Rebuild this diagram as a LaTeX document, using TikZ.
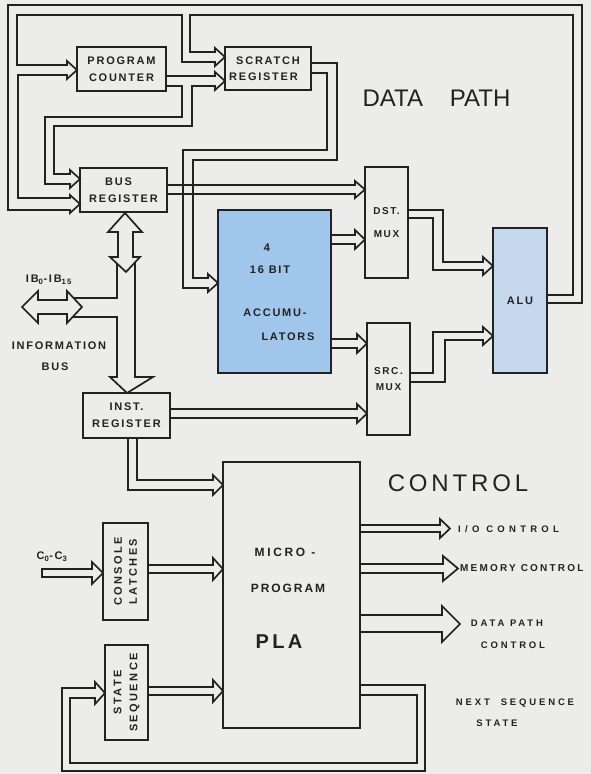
\documentclass[tikz,border=0pt]{standalone}
\usepackage{fontspec}
\setmainfont{Liberation Sans}
\newfontfamily\lblfont[LetterSpace=16]{Liberation Sans}
\newfontfamily\midfont[LetterSpace=22]{Liberation Sans}
\newfontfamily\widefont[LetterSpace=30]{Liberation Sans}
\newfontfamily\xwidefont[LetterSpace=45]{Liberation Sans}
\definecolor{bgc}{RGB}{236,236,234}
\definecolor{ink}{RGB}{34,34,34}
\definecolor{accblue}{RGB}{160,198,236}
\definecolor{alublue}{RGB}{198,216,238}
\begin{document}
\begin{tikzpicture}[x=1pt,y=-1pt,
  blk/.style={draw=ink, line width=1.7pt, inner sep=0pt, align=center, text=ink,
    font=\lblfont\bfseries\fontsize{11}{17}\selectfont},
  busline/.style={draw=ink, line width=1.7pt, line join=miter},
  lbl/.style={inner sep=0pt, text=ink, font=\lblfont\bfseries\fontsize{11}{17}\selectfont},
  wlbl/.style={inner sep=0pt, text=ink, font=\widefont\bfseries\fontsize{9.5}{14}\selectfont},
  big/.style={inner sep=0pt, text=ink, font=\fontsize{24}{28}\selectfont}]
\fill[bgc] (0,0) rectangle (591,774);
\useasboundingbox (0,0) rectangle (591,774);

% ---------- boxes ----------
\node[blk, minimum width=89, minimum height=44] (pc) at (121.5,69) {PROGRAM\\COUNTER};
\node[blk, minimum width=86, minimum height=43, font=\lblfont\bfseries\fontsize{11}{16}\selectfont] (scr) at (268,68.5) {SCRATCH\\\hspace*{-9pt}REGISTER};
\node[blk, minimum width=87, minimum height=44] (busr) at (123.5,190) {\hspace*{-10pt}BUS\\REGISTER};
\node[blk, minimum width=87, minimum height=45] (inst) at (126.5,415.5) {INST.\\REGISTER};
\node[blk, fill=accblue, minimum width=113, minimum height=163] (acc) at (274.5,291.5) {};
\node[blk, minimum width=43, minimum height=111, font=\lblfont\bfseries\fontsize{10}{23}\selectfont] (dst) at (386.5,222.5) {DST.\\MUX};
\node[blk, minimum width=43, minimum height=112, font=\lblfont\bfseries\fontsize{10}{16}\selectfont] (src) at (388.5,379) {SRC.\\MUX};
\node[blk, fill=alublue, minimum width=54, minimum height=145] (alu) at (520,300.5) {ALU};
\node[blk, minimum width=137, minimum height=266] (pla) at (291.5,595) {};
\node[blk, rotate=90, minimum width=97, minimum height=45, font=\midfont\bfseries\fontsize{11}{15}\selectfont] (cl) at (125.5,571.5) {CONSOLE\\LATCHES};
\node[blk, rotate=90, minimum width=95, minimum height=43, font=\midfont\bfseries\fontsize{11}{16}\selectfont] (ss) at (126.5,692.5) {STATE\\SEQUENCE};

% ---------- text inside accumulators and PLA ----------
\node[lbl] (t4) at (267,248) {4};
\node[lbl] (t16) at (270,270) {16 BIT};
\node[lbl] (tacc) at (275,313) {ACCUMU-};
\node[lbl] (tlat) at (288,337) {LATORS};
\node[lbl, font=\midfont\bfseries\fontsize{12}{17}\selectfont] (tmic) at (285,552) {MICRO -};
\node[lbl, font=\lblfont\bfseries\fontsize{12}{17}\selectfont] (tprg) at (288,588) {PROGRAM};
\node[inner sep=0pt, text=ink, font=\lblfont\bfseries\fontsize{20}{22}\selectfont] (tpla) at (279,642) {PL\,A};

% ---------- titles ----------
\node[big] (dp) at (436.5,98) {DATA\hspace{27pt}PATH};
\node[big, font=\lblfont\fontsize{24}{28}\selectfont] (ctl) at (458,483) {CONTROL};

% ---------- outside labels ----------
\node[lbl, anchor=west, font=\xwidefont\bfseries\fontsize{9.5}{14}\selectfont] (tio) at (458,529) {I/O CONTROL};
\node[lbl, anchor=west, font=\midfont\bfseries\fontsize{10}{14}\selectfont] (tmem) at (460,568.5) {MEMORY CONTROL};
\node[wlbl] (tdp1) at (507,623) {DATA PATH};
\node[wlbl] (tdp2) at (513,645) {CONTROL};
\node[wlbl] (tnx) at (515,703) {NEXT \ SEQUENCE};
\node[wlbl] (tst) at (497,723) {STATE};
\node[lbl] (tib) at (49,280) {IB\textsubscript{0}-IB\textsubscript{15}};
\node[lbl] (tinf) at (59,346) {INFORMATION};
\node[lbl] (tbus) at (55,367) {BUS};
\node[lbl] (tc) at (52,557) {C\textsubscript{0}-C\textsubscript{3}};

% ---------- buses ----------
% ALU output loop feeding scratch, PC and bus register
\draw[busline] (547,303) -- (582,303) -- (582,5) -- (8,5) -- (8,210) -- (70,210) -- (70,213) -- (80,204) -- (70,195) -- (70,198) -- (18,198) -- (18,75) -- (67,75) -- (67,79) -- (77,70) -- (67,61) -- (67,65) -- (17,65) -- (17,15) -- (182,15) -- (182,62) -- (215,62) -- (215,66) -- (225,57) -- (215,48) -- (215,52) -- (190,52) -- (190,15) -- (573,15) -- (573,295) -- (547,295);
% PC output to scratch and bus register
\draw[busline] (166,76) -- (215,76) -- (215,72) -- (225,81) -- (215,90) -- (215,86) -- (192,86) -- (192,126) -- (54,126) -- (54,174) -- (70,174) -- (70,170) -- (80,179) -- (70,188) -- (70,184) -- (45,184) -- (45,117) -- (182,117) -- (182,86) -- (166,86);
% scratch output to accumulators
\draw[busline] (311,63) -- (337,63) -- (337,160) -- (193,160) -- (193,278) -- (208,278) -- (208,274) -- (218,283) -- (208,292) -- (208,288) -- (183,288) -- (183,150) -- (327,150) -- (327,73) -- (311,73);
% bus register to DST mux
\draw[busline] (167,185) -- (355,185) -- (355,181) -- (365,189.5) -- (355,198) -- (355,194) -- (167,194);
% accumulators to DST mux
\draw[busline] (331,235) -- (355,235) -- (355,230) -- (365,239.5) -- (355,249) -- (355,244) -- (331,244);
% accumulators to SRC mux
\draw[busline] (331,339) -- (357,339) -- (357,334) -- (367,343.5) -- (357,353) -- (357,348) -- (331,348);
% inst register to SRC mux
\draw[busline] (170,409) -- (357,409) -- (357,404) -- (367,413.5) -- (357,423) -- (357,418) -- (170,418);
% DST mux to ALU
\draw[busline] (408,210) -- (443,210) -- (443,262) -- (483,262) -- (483,257) -- (493,266) -- (483,275) -- (483,270) -- (433,270) -- (433,218) -- (408,218);
% SRC mux to ALU
\draw[busline] (410,373) -- (433,373) -- (433,332) -- (483,332) -- (483,327) -- (493,336) -- (483,345) -- (483,340) -- (445,340) -- (445,382) -- (410,382);
% bus register <-> internal bus
\draw[busline] (125,213) -- (142,232) -- (133,232) -- (133,257) -- (140,257) -- (126,272) -- (110,257) -- (118,257) -- (118,232) -- (108,232) -- cycle;
% internal bus to inst register, branch to information bus
\draw[busline] (117,264) -- (117,298) -- (73.6,298);
\draw[busline] (135,262) -- (135,377) -- (153,377) -- (127,393) -- (110,377) -- (117,377) -- (117,317) -- (72.6,317);
% information bus
\draw[busline] (22,307) -- (38,291) -- (38,300) -- (67,300) -- (67,291) -- (82,307) -- (67,323) -- (67,314) -- (38,314) -- (38,323) -- cycle;
% inst register to PLA
\draw[busline] (128,438) -- (128,490) -- (213,490) -- (213,495) -- (223,485) -- (213,475) -- (213,480) -- (137,480) -- (137,438);
% console input
\draw[busline] (42,569) -- (92,569) -- (92,562) -- (103,573) -- (92,584) -- (92,577) -- (42,577) -- cycle;
% console latches to PLA
\draw[busline] (148,565) -- (213,565) -- (213,558) -- (223,569) -- (213,580) -- (213,573) -- (148,573);
% state sequence to PLA
\draw[busline] (148,687) -- (213,687) -- (213,680) -- (223,691) -- (213,702) -- (213,695) -- (148,695);
% next sequence state loop
\draw[busline] (360,685) -- (425,685) -- (425,771) -- (62,771) -- (62,688) -- (95,688) -- (95,682) -- (105,693) -- (95,704) -- (95,698) -- (70,698) -- (70,763) -- (417,763) -- (417,695) -- (360,695);
% PLA outputs
\draw[busline] (360,525) -- (440,525) -- (440,519) -- (450,528.5) -- (440,538) -- (440,532) -- (360,532);
\draw[busline] (360,564) -- (443,564) -- (443,556) -- (458,568.5) -- (443,581) -- (443,573) -- (360,573);
\draw[busline] (360,615) -- (442,615) -- (442,606) -- (460,624) -- (442,642) -- (442,632) -- (360,632);
\end{tikzpicture}
\end{document}
